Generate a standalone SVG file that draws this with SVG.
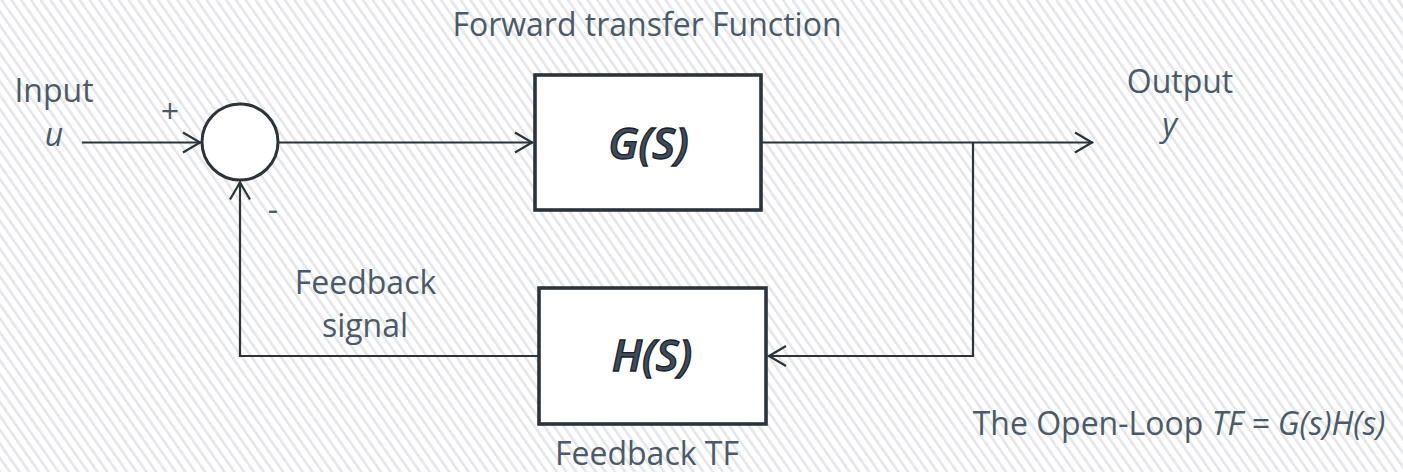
<svg xmlns="http://www.w3.org/2000/svg" width="1403" height="472" viewBox="0 0 1403 472">
  <defs>
    <pattern id="hatch" width="8" height="8" patternUnits="userSpaceOnUse" patternTransform="rotate(-35)">
      <rect width="8" height="8" fill="#ffffff"/>
      <rect x="0" y="0" width="2.6" height="8" fill="#e4e6e9"/>
    </pattern>
    <marker id="arrow" markerUnits="userSpaceOnUse" markerWidth="24" markerHeight="26" viewBox="-20 -13 24 26" refX="0" refY="0" orient="auto">
      <path d="M-18,-10 L-1,0 L-18,10" fill="none" stroke="#2b333b" stroke-width="2.2"/>
    </marker>
    <style>
      .lbl { font-family: "Open Sans", "Liberation Sans", sans-serif; font-size: 32px; fill: #4b5a69; }
      .it { font-style: italic; }
      .blk { fill: #ffffff; stroke: #2b333b; stroke-width: 3.6; }
      .tf { font-family: "Open Sans", "Liberation Sans", sans-serif; font-size: 44px; font-style: italic; font-weight: 600; fill: #3e4c5a; stroke: #1b232a; stroke-width: 1.3; text-anchor: middle; }
      .wire { fill: none; stroke: #2b333b; stroke-width: 2.2; }
    </style>
  </defs>

  <rect x="0" y="0" width="1403" height="472" fill="url(#hatch)"/>

  <g id="connectors">
    <line class="wire" x1="82" y1="142.5" x2="201" y2="142.5" marker-end="url(#arrow)"/>
    <line class="wire" x1="279" y1="142.5" x2="533" y2="142.5" marker-end="url(#arrow)"/>
    <line class="wire" x1="762" y1="142.5" x2="1093" y2="142.5" marker-end="url(#arrow)"/>
    <polyline class="wire" points="973,142.5 973,356 768,356" marker-end="url(#arrow)"/>
    <polyline class="wire" points="538,356 240,356 240,181.5" marker-end="url(#arrow)"/>
  </g>

  <g id="node-sum">
    <circle cx="240" cy="142" r="38" fill="#ffffff" stroke="#2b333b" stroke-width="3"/>
    <text class="lbl" x="170" y="123" text-anchor="middle">+</text>
    <text class="lbl" x="273" y="221" text-anchor="middle">-</text>
  </g>

  <g id="node-G">
    <rect class="blk" x="535" y="75" width="226" height="135"/>
    <text class="tf" x="648.5" y="159">G(S)</text>
  </g>

  <g id="node-H">
    <rect class="blk" x="539" y="288" width="227" height="136"/>
    <text class="tf" x="652" y="371">H(S)</text>
  </g>

  <g id="labels">
    <text class="lbl" x="647" y="36" text-anchor="middle">Forward transfer Function</text>
    <text class="lbl" x="54" y="102" text-anchor="middle">Input</text>
    <text class="lbl it" x="54" y="146" text-anchor="middle">u</text>
    <text class="lbl" x="1180" y="93" text-anchor="middle">Output</text>
    <text class="lbl it" x="1169.5" y="136" text-anchor="middle">y</text>
    <text class="lbl" x="365.5" y="294" text-anchor="middle">Feedback</text>
    <text class="lbl" x="365" y="337" text-anchor="middle">signal</text>
    <text class="lbl" x="647" y="465" text-anchor="middle">Feedback TF</text>
    <text class="lbl" x="1179" y="435" text-anchor="middle">The Open-Loop <tspan class="it">TF = G(s)H(s)</tspan></text>
  </g>
</svg>
